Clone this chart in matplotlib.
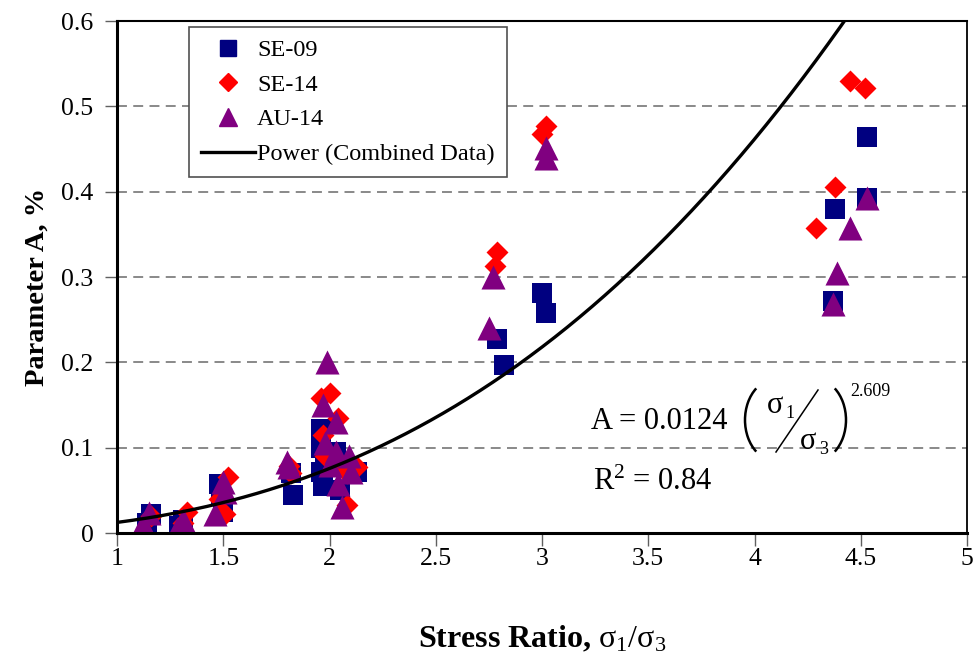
import numpy as np
import matplotlib
matplotlib.use("Agg")
import matplotlib.pyplot as plt
from matplotlib.lines import Line2D
from matplotlib.patches import Arc
from matplotlib.transforms import IdentityTransform

plt.rcParams['font.family'] = ['Liberation Serif', 'DejaVu Serif']
plt.rcParams['mathtext.fontset'] = 'custom'
plt.rcParams['mathtext.rm'] = 'Liberation Serif'
plt.rcParams['mathtext.it'] = 'Liberation Serif:italic'
plt.rcParams['mathtext.bf'] = 'Liberation Serif:bold'

# ---------------- data ----------------
se09_x = [1.14, 1.16, 1.29, 1.31, 1.48, 1.49, 1.50, 1.82, 1.83, 1.96, 1.96, 1.96, 1.97,
          1.98, 2.03, 2.05, 2.13, 2.79, 2.82, 3.00, 3.02, 4.37, 4.38, 4.53, 4.53]
se09_y = [0.012, 0.022, 0.008, 0.015, 0.058, 0.045, 0.025, 0.070, 0.044, 0.122, 0.100, 0.072, 0.055,
          0.085, 0.095, 0.050, 0.072, 0.227, 0.197, 0.281, 0.258, 0.272, 0.380, 0.464, 0.393]

se14_x = [1.16, 1.31, 1.33, 1.48, 1.51, 1.52, 1.81, 1.82, 1.96, 1.97, 1.98, 2.00, 2.04,
          2.05, 2.08, 2.08, 2.13, 2.78, 2.79, 3.00, 3.02, 4.29, 4.38, 4.45, 4.52]
se14_y = [0.020, 0.012, 0.025, 0.040, 0.022, 0.066, 0.078, 0.070, 0.158, 0.115, 0.090, 0.164, 0.135,
          0.080, 0.070, 0.033, 0.077, 0.313, 0.329, 0.468, 0.477, 0.357, 0.405, 0.530, 0.522]

au14_x = [1.12, 1.15, 1.28, 1.31, 1.46, 1.50, 1.51, 1.80, 1.81, 1.97, 1.98, 1.99, 2.00, 2.03,
          2.03, 2.04, 2.06, 2.09, 2.10, 2.75, 2.77, 3.02, 3.02, 4.37, 4.39, 4.45, 4.53]
au14_y = [0.010, 0.024, 0.005, 0.015, 0.022, 0.060, 0.048, 0.083, 0.077, 0.150, 0.105, 0.200, 0.080, 0.130,
          0.095, 0.058, 0.030, 0.090, 0.072, 0.240, 0.300, 0.451, 0.440, 0.268, 0.305, 0.357, 0.393]

# power trendline coefficients (as printed on the chart)
fit_a = 0.0124
fit_b = 2.609
fit_r2 = 0.84

x_ticks = [1, 1.5, 2, 2.5, 3, 3.5, 4, 4.5, 5]
x_tick_labels = ['1', '1.5', '2', '2.5', '3', '3.5', '4', '4.5', '5']
y_ticks = [0, 0.1, 0.2, 0.3, 0.4, 0.5, 0.6]
y_tick_labels = ['0', '0.1', '0.2', '0.3', '0.4', '0.5', '0.6']

# ---------------- figure ----------------
W, H = 974, 658
fig = plt.figure(figsize=(W / 100, H / 100), dpi=100)
ax = fig.add_axes([117 / W, 1 - 533 / H, (967 - 117) / W, (533 - 21) / H])

ax.set_xlim(1, 5)
ax.set_ylim(0, 0.6)

for y in y_ticks[1:-1]:
    ax.axhline(y, color='#808080', lw=1.3, ls=(0, (5.5, 3.5)), zorder=1)

ax.scatter(se09_x, se09_y, marker='s', s=215, color='#000080', zorder=3, linewidths=0, label='SE-09')
ax.scatter(se14_x, se14_y, marker='D', s=125, color='#FF0000', zorder=4, linewidths=0, label='SE-14')
ax.scatter(au14_x, au14_y, marker='^', s=300, color='#800080', zorder=5, linewidths=0, label='AU-14')

xc = np.linspace(1.0, 4.5, 300)
ax.plot(xc, fit_a * xc ** fit_b, color='black', lw=2.4, zorder=6, label='Power (Combined Data)')

ax.set_xticks(x_ticks)
ax.set_xticklabels(x_tick_labels)
ax.set_yticks(y_ticks)
ax.set_yticklabels(y_tick_labels)
ax.tick_params(axis='both', direction='out', length=9, width=1.0, color='#606060',
               labelsize=18.5, colors='black')
ax.tick_params(axis='x', pad=2)
ax.tick_params(axis='y', pad=8)

ax.spines['left'].set_linewidth(2.2)
ax.spines['bottom'].set_linewidth(2.2)
ax.spines['top'].set_linewidth(1.5)
ax.spines['right'].set_linewidth(1.3)
for s in ax.spines.values():
    s.set_color('black')
    s.set_zorder(7)

ax.set_xlabel(r'Stress Ratio, $\mathrm{σ_1/σ_3}$', fontsize=23, fontweight='bold')
ax.xaxis.set_label_coords(0.5, (533 - 624) / 512)
ax.set_ylabel('Parameter A, %', fontsize=20.5, fontweight='bold')
ax.yaxis.set_label_coords((50 - 117) / 850, 0.48)

handles = [
    Line2D([], [], marker='s', ls='none', color='#000080', markersize=11),
    Line2D([], [], marker='D', ls='none', color='#FF0000', markersize=9),
    Line2D([], [], marker='^', ls='none', color='#800080', markersize=13),
    Line2D([], [], color='black', lw=2.4),
]
leg = ax.legend(handles, ['SE-09', 'SE-14', 'AU-14', 'Power (Combined Data)'],
                loc='upper left', bbox_to_anchor=((189 - 117) / 850, (533 - 27) / 512),
                fontsize=17.5, frameon=True, fancybox=False, edgecolor='#505050',
                framealpha=1, borderpad=0.5, labelspacing=0.52, handlelength=2.2,
                handletextpad=0.1, borderaxespad=0)
leg.get_frame().set_linewidth(1.2)
leg.set_zorder(8)

# ---------------- equation ----------------
def P(x, y):
    return (x / W, 1 - y / H)

fs = 22
fig.text(*P(591, 429), 'A = 0.0124', fontsize=fs, ha='left', va='baseline')
# thin tall parentheses drawn as arcs (pixel coordinates)
fig.add_artist(Arc((776, H - 420), 62, 82, theta1=122, theta2=238,
                   transform=IdentityTransform(), color='black', lw=1.8))
fig.add_artist(Arc((815, H - 420), 62, 82, theta1=-58, theta2=58,
                   transform=IdentityTransform(), color='black', lw=1.8))
fig.text(*P(767, 413), 'σ', fontsize=fs, ha='left', va='baseline')
fig.text(*P(785, 418), '1', fontsize=13, ha='left', va='baseline')
fig.add_artist(Line2D([776 / W, 818 / W], [1 - 452 / H, 1 - 390 / H], color='black', lw=1.1))
fig.text(*P(800, 449), 'σ', fontsize=fs, ha='left', va='baseline')
fig.text(*P(819, 454), '3', fontsize=13, ha='left', va='baseline')
fig.text(*P(850, 396), '2.609', fontsize=13, ha='left', va='baseline')
fig.text(*P(593, 490), r'R$^\mathrm{2}$ = 0.84', fontsize=fs, ha='left', va='baseline')

fig.savefig('out.png', dpi=100)
